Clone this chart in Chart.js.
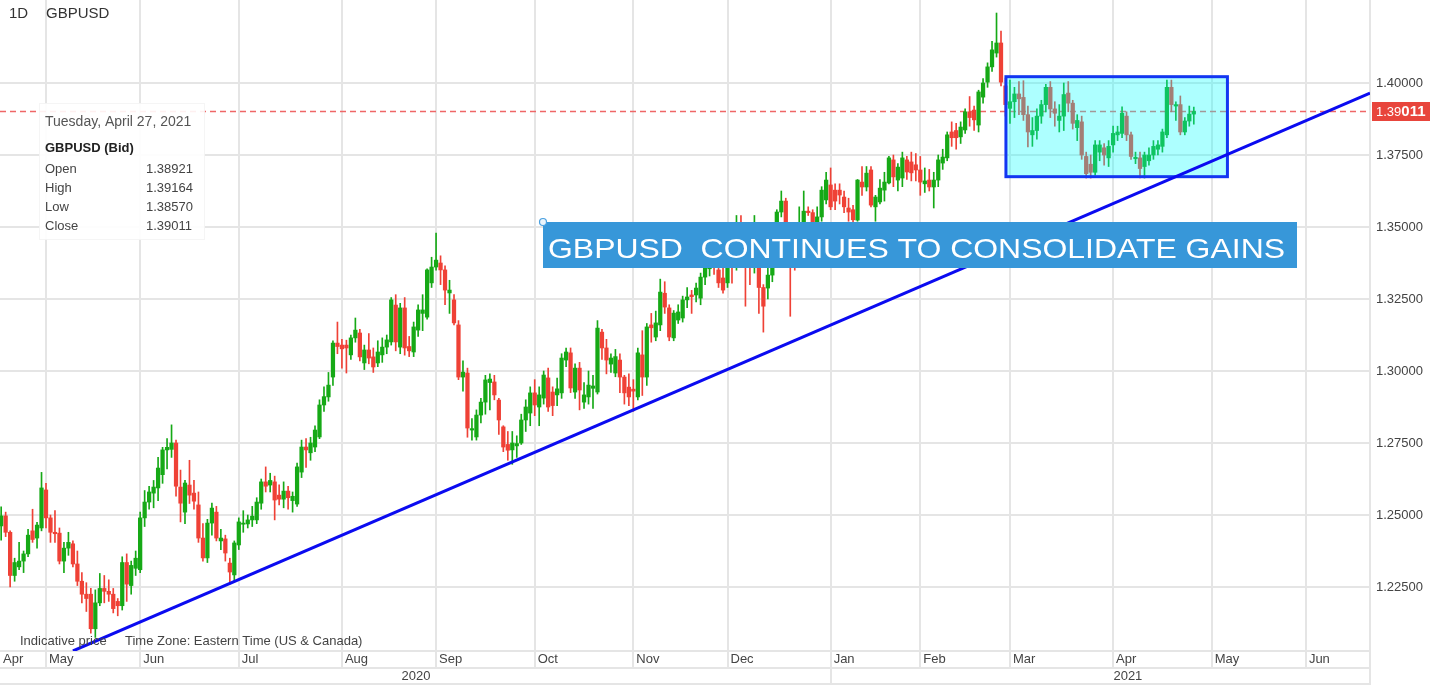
<!DOCTYPE html>
<html>
<head>
<meta charset="utf-8">
<script src="https://cdn.jsdelivr.net/npm/chart.js@4.4.1/dist/chart.umd.min.js"></script>
<style>
html,body{margin:0;padding:0;background:#fff;overflow:hidden}
#wrap{position:relative;width:1430px;height:685px}
canvas{display:block}
</style>
</head>
<body>
<div id="wrap"><canvas id="c" width="1430" height="685"></canvas></div>
<script>
// ---- DATA ----------------------------------------------------------
// x = trading-day index, 0 = Fri May 1 2020; first candle = Fri Apr 17 2020
const firstIndex = -10;
const opens = [
1.2462,1.2497,1.2440,1.2290,1.2320,1.2340,1.2365,1.2445,1.2420,1.2455,
1.2587,1.2490,1.2440,1.2437,1.2340,1.2385,1.2400,1.2330,1.2270,1.2225,1.2225,1.2105,1.2195,1.2245,1.2235,1.2225,1.2200,1.2185,1.2335,1.2255,1.2315,
1.2310,1.2490,1.2545,1.2576,1.2594,1.2640,1.2726,1.2728,1.2750,1.2597,1.2510,1.2604,1.2576,1.2535,1.2420,1.2351,1.2472,1.2510,1.2410,1.2417,1.2333,1.2292,
1.2396,1.2468,1.2469,1.2483,1.2483,1.2541,1.2615,1.2604,1.2615,1.2569,1.2555,1.2583,1.2550,1.2538,1.2649,1.2736,1.2716,1.2736,1.2771,1.2882,1.2910,1.2979,1.3097,
1.3090,1.3090,1.3056,1.3115,1.3132,1.3028,1.3073,1.3049,1.3028,1.3056,1.3083,1.3101,1.3229,1.3083,1.3219,1.3085,1.3066,1.3142,1.3200,1.3187,1.3306,
1.3361,1.3375,1.3351,1.3271,1.3247,1.3160,1.2979,1.2993,1.2795,1.2771,1.2847,1.2892,1.2960,1.2962,1.2899,1.2806,1.2745,1.2726,1.2740,1.2750,1.2830,1.2854,
1.2924,1.2875,1.2906,1.2976,1.2927,1.2917,1.2924,1.3038,1.3063,1.2927,1.3010,1.2892,1.2910,1.2940,1.2927,1.3135,1.3080,1.3024,1.2993,1.3038,1.2979,1.2944,
1.2937,1.2910,1.3056,1.2979,1.3160,1.3118,1.3160,1.3270,1.3219,1.3115,1.3177,1.3184,1.3247,1.3264,1.3264,1.3253,1.3326,1.3355,1.3370,1.3351,1.3323,
1.3306,1.3418,1.3365,1.3465,1.3440,1.3385,1.3360,1.3375,1.3290,1.3288,1.3333,1.3445,1.3552,1.3590,1.3480,1.3450,1.3380,1.3495,1.3555,1.3550,1.3480,1.3535,1.3594,
1.3646,1.3628,1.3628,1.3604,1.3566,1.3560,1.3524,1.3656,1.3639,1.3698,1.3570,1.3587,1.3628,1.3653,1.3733,1.3663,1.3670,1.3733,1.3726,1.3716,
1.3698,1.3650,1.3663,1.3639,1.3663,1.3722,1.3740,1.3830,1.3835,1.3813,1.3837,1.3900,1.3906,1.3854,1.3951,1.4003,1.4056,1.4104,1.4139,1.3990,
1.3912,1.3935,1.3962,1.3950,1.3890,1.3820,1.3835,1.3885,1.3925,1.3985,1.3910,1.3870,1.3885,1.3965,1.3930,1.3845,1.3865,1.3745,1.3718,1.3690,1.3760,1.3775,1.3740,
1.3785,1.3820,1.3825,1.3885,1.3820,1.3737,1.3740,1.3710,1.3730,1.3750,1.3770,1.3780,1.3820,1.3985,1.3920,1.3925,1.3830,1.3868,1.38921
];
const highs = [
1.2528,1.2510,1.2445,1.2350,1.2405,1.2375,1.2450,1.2520,1.2475,1.2648,
1.2610,1.2500,1.2515,1.2455,1.2405,1.2440,1.2410,1.2375,1.2300,1.2265,1.2245,1.2240,1.2297,1.2290,1.2275,1.2245,1.2210,1.2355,1.2365,1.2340,1.2375,
1.2510,1.2585,1.2600,1.2620,1.2700,1.2735,1.2765,1.2813,1.2760,1.2656,1.2620,1.2690,1.2620,1.2580,1.2470,1.2485,1.2541,1.2530,1.2450,1.2430,1.2350,1.2410,
1.2490,1.2515,1.2500,1.2530,1.2560,1.2625,1.2667,1.2645,1.2635,1.2605,1.2615,1.2600,1.2580,1.2680,1.2760,1.2765,1.2770,1.2810,1.2900,1.2945,1.2995,1.3105,1.3170,
1.3110,1.3107,1.3125,1.3184,1.3145,1.3090,1.3130,1.3080,1.3105,1.3115,1.3125,1.3255,1.3265,1.3235,1.3255,1.3120,1.3170,1.3230,1.3265,1.3355,1.3395,
1.3479,1.3400,1.3365,1.3315,1.3265,1.3175,1.3035,1.3010,1.2835,1.2865,1.2905,1.2985,1.2990,1.2985,1.2905,1.2810,1.2790,1.2790,1.2775,1.2850,1.2900,1.2945,
1.2970,1.2945,1.3000,1.3010,1.2945,1.2975,1.3060,1.3080,1.3080,1.3025,1.3030,1.2960,1.3000,1.2985,1.3175,1.3145,1.3110,1.3060,1.3075,1.3060,1.2985,1.2990,
1.2970,1.3080,1.3140,1.3165,1.3200,1.3208,1.3319,1.3310,1.3230,1.3210,1.3230,1.3260,1.3290,1.3280,1.3305,1.3340,1.3375,1.3400,1.3395,1.3380,1.3360,
1.3445,1.3440,1.3540,1.3540,1.3445,1.3425,1.3540,1.3385,1.3300,1.3410,1.3470,1.3560,1.3625,1.3600,1.3500,1.3470,1.3570,1.3625,1.3570,1.3560,1.3570,1.3640,1.3690,
1.3705,1.3650,1.3650,1.3625,1.3600,1.3575,1.3665,1.3710,1.3710,1.3710,1.3610,1.3665,1.3690,1.3745,1.3750,1.3720,1.3760,1.3745,1.3760,1.3755,
1.3745,1.3705,1.3700,1.3690,1.3750,1.3770,1.3830,1.3865,1.3860,1.3865,1.3910,1.3953,1.3920,1.3975,1.4015,1.4070,1.4145,1.4243,1.4180,1.4017,
1.4010,1.3985,1.4005,1.4008,1.3920,1.3880,1.3910,1.3940,1.3995,1.4005,1.3935,1.3925,1.4000,1.4005,1.3940,1.3890,1.3885,1.3760,1.3750,1.3800,1.3800,1.3790,1.3800,
1.3850,1.3850,1.3917,1.3900,1.3830,1.3760,1.3760,1.3760,1.3775,1.3800,1.3800,1.3840,1.4010,1.4010,1.3935,1.3955,1.3880,1.3920,1.39164
];
const lows = [
1.2413,1.2425,1.2250,1.2270,1.2310,1.2300,1.2355,1.2405,1.2385,1.2445,
1.2455,1.2405,1.2405,1.2330,1.2300,1.2360,1.2320,1.2255,1.2195,1.2165,1.2090,1.2075,1.2185,1.2195,1.2200,1.2160,1.2150,1.2170,1.2200,1.2225,1.2290,
1.2300,1.2460,1.2520,1.2525,1.2550,1.2610,1.2660,1.2700,1.2565,1.2476,1.2470,1.2540,1.2520,1.2405,1.2340,1.2335,1.2430,1.2410,1.2380,1.2340,1.2260,1.2270,
1.2380,1.2440,1.2455,1.2460,1.2470,1.2520,1.2580,1.2580,1.2483,1.2535,1.2525,1.2520,1.2510,1.2530,1.2630,1.2665,1.2690,1.2720,1.2765,1.2860,1.2895,1.2950,1.3060,
1.3010,1.2993,1.3040,1.3100,1.3035,1.3005,1.3025,1.2995,1.3015,1.3030,1.3060,1.3090,1.3070,1.3060,1.3055,1.3050,1.3050,1.3120,1.3140,1.3180,1.3290,
1.3350,1.3300,1.3230,1.3200,1.3160,1.2970,1.2930,1.2770,1.2760,1.2760,1.2820,1.2850,1.2865,1.2900,1.2780,1.2720,1.2690,1.2676,1.2700,1.2745,1.2790,1.2810,
1.2845,1.2810,1.2885,1.2860,1.2845,1.2880,1.2905,1.3015,1.2925,1.2905,1.2865,1.2870,1.2885,1.2870,1.2920,1.3040,1.2990,1.2995,1.2980,1.2925,1.2885,1.2880,
1.2860,1.2900,1.2915,1.2950,1.3100,1.3105,1.3140,1.3200,1.3105,1.3105,1.3165,1.3170,1.3220,1.3200,1.3240,1.3230,1.3300,1.3330,1.3335,1.3290,1.3270,
1.3290,1.3305,1.3350,1.3400,1.3225,1.3300,1.3340,1.3200,1.3135,1.3250,1.3310,1.3400,1.3535,1.3480,1.3190,1.3350,1.3375,1.3480,1.3540,1.3430,1.3440,1.3520,1.3580,
1.3560,1.3560,1.3580,1.3550,1.3520,1.3450,1.3520,1.3610,1.3625,1.3570,1.3520,1.3580,1.3590,1.3650,1.3640,1.3625,1.3640,1.3665,1.3660,1.3660,
1.3610,1.3620,1.3625,1.3566,1.3640,1.3700,1.3730,1.3780,1.3770,1.3790,1.3825,1.3850,1.3835,1.3830,1.3930,1.3985,1.4040,1.4090,1.3990,1.3885,
1.3860,1.3880,1.3890,1.3870,1.3778,1.3780,1.3805,1.3860,1.3900,1.3880,1.3850,1.3830,1.3835,1.3900,1.3840,1.3800,1.3735,1.3670,1.3670,1.3680,1.3730,1.3715,1.3710,
1.3760,1.3800,1.3810,1.3800,1.3735,1.3720,1.3670,1.3670,1.3715,1.3735,1.3750,1.3760,1.3810,1.3900,1.3870,1.3820,1.3820,1.3850,1.38570
];
const closes = [
1.2497,1.2440,1.2290,1.2335,1.2340,1.2365,1.2430,1.2415,1.2465,1.2594,
1.2490,1.2440,1.2435,1.2340,1.2385,1.2405,1.2330,1.2270,1.2225,1.2210,1.2105,1.2195,1.2245,1.2235,1.2225,1.2175,1.2185,1.2335,1.2260,1.2325,1.2350,
1.2490,1.2545,1.2580,1.2597,1.2663,1.2726,1.2735,1.2750,1.2600,1.2541,1.2611,1.2569,1.2548,1.2420,1.2351,1.2472,1.2524,1.2420,1.2420,1.2368,1.2302,1.2403,
1.2476,1.2472,1.2483,1.2496,1.2545,1.2615,1.2600,1.2620,1.2552,1.2555,1.2583,1.2560,1.2565,1.2667,1.2736,1.2726,1.2750,1.2795,1.2882,1.2911,1.2951,1.3097,1.3085,
1.3077,1.3080,1.3115,1.3142,1.3049,1.3073,1.3045,1.3014,1.3066,1.3083,1.3108,1.3247,1.3101,1.3219,1.3080,1.3070,1.3153,1.3212,1.3212,1.3351,1.3361,
1.3385,1.3351,1.3281,1.3281,1.3167,1.2979,1.2996,1.2802,1.2800,1.2847,1.2892,1.2969,1.2972,1.2917,1.2830,1.2736,1.2725,1.2750,1.2748,1.2830,1.2875,1.2924,
1.2882,1.2917,1.2986,1.2875,1.2880,1.2938,1.3045,1.3066,1.2941,1.3010,1.2934,1.2917,1.2951,1.2948,1.3149,1.3080,1.3038,1.3045,1.3050,1.2979,1.2924,1.2910,
1.2930,1.3063,1.2979,1.3153,1.3150,1.3167,1.3274,1.3222,1.3118,1.3201,1.3205,1.3247,1.3257,1.3258,1.3288,1.3326,1.3358,1.3370,1.3365,1.3306,1.3281,
1.3418,1.3365,1.3465,1.3440,1.3385,1.3360,1.3375,1.3290,1.3225,1.3333,1.3445,1.3552,1.3590,1.3517,1.3450,1.3380,1.3495,1.3555,1.3550,1.3500,1.3535,1.3628,1.3663,
1.3570,1.3590,1.3611,1.3570,1.3552,1.3525,1.3663,1.3639,1.3687,1.3576,1.3604,1.3635,1.3656,1.3740,1.3674,1.3708,1.3740,1.3691,1.3688,1.3698,
1.3656,1.3660,1.3639,1.3663,1.3733,1.3743,1.3820,1.3810,1.3810,1.3847,1.3900,1.3880,1.3872,1.3969,1.4000,1.4056,1.4115,1.4139,1.4003,1.3925,
1.3935,1.3962,1.3945,1.3890,1.3830,1.3835,1.3885,1.3925,1.3985,1.3910,1.3895,1.3885,1.3960,1.3930,1.3860,1.3870,1.3750,1.3685,1.3690,1.3785,1.3785,1.3750,1.3780,
1.3825,1.3830,1.3895,1.3820,1.3745,1.3742,1.3703,1.3750,1.3750,1.3780,1.3785,1.3830,1.3985,1.3925,1.3925,1.3830,1.3868,1.3892,1.39011
];

// month ticks (trading-day index of first session of each month)
const monthTickIdx    = [-10.26, 0, 21, 43, 66, 87, 109, 131, 152, 175, 195, 215, 238, 260, 281];
const monthTickLabels = ['Apr','May','Jun','Jul','Aug','Sep','Oct','Nov','Dec','Jan','Feb','Mar','Apr','May','Jun'];
const yearTickIdx     = [82.5, 175, 241.3];
const yearTickLabels  = ['2020', '', '2021'];
const priceTicks      = [1.225, 1.25, 1.275, 1.30, 1.325, 1.35, 1.375, 1.40];

const lastPrice = 1.39011;
const infoRows  = [['Open','1.38921'],['High','1.39164'],['Low','1.38570'],['Close','1.39011']];
const infoDate  = 'Tuesday, April 27, 2021';
const symbol    = 'GBPUSD';

// drawn annotations, in data coordinates
const trendX = [6.0, 295.3];
const trendY = [1.2028, 1.3965];
const boxX   = [214.1, 263.5];
const boxY   = [1.36747, 1.40219];
const bannerAnchor = [110.8, 1.35174];
const bannerText = 'GBPUSD  CONTINUES TO CONSOLIDATE GAINS';

// ---- CHART ---------------------------------------------------------
const FONT = "'Liberation Sans', Arial, Helvetica, sans-serif";
const GRID = '#e5e5e5';
const UP = '#16a916', DOWN = '#ef4136';
const X_MIN = -10.26, X_MAX = 295.3;
const Y_MIN = 1.20278, Y_MAX = 1.42882;

const wickData = opens.map((o, i) => ({x: firstIndex + i, y: [lows[i], highs[i]]}));
const bodyData = opens.map((o, i) => ({x: firstIndex + i, y: [o, closes[i]]}));
const candleColors = opens.map((o, i) => closes[i] >= o ? UP : DOWN);
const trendData = trendX.map((x, i) => ({x: x, y: trendY[i]}));

const overlay = {
  id: 'overlay',
  beforeDatasetsDraw(chart) {
    const {ctx, chartArea: a, scales: {y}} = chart;
    const py = Math.round(y.getPixelForValue(lastPrice)) + 0.5;
    ctx.save();
    ctx.strokeStyle = '#ef6767';
    ctx.lineWidth = 1.3;
    ctx.setLineDash([6, 4]);
    ctx.beginPath(); ctx.moveTo(a.left, py); ctx.lineTo(a.right, py); ctx.stroke();
    ctx.restore();
  },
  afterDatasetDraw(chart, args) {
    if (args.index !== 1) return;
    const {ctx, scales: {x, y}} = chart;
    const l = x.getPixelForValue(boxX[0]), r = x.getPixelForValue(boxX[1]);
    const t = y.getPixelForValue(boxY[1]), b = y.getPixelForValue(boxY[0]);
    ctx.save();
    ctx.fillStyle = 'rgba(0,255,255,0.32)';
    ctx.fillRect(l, t, r - l, b - t);
    ctx.strokeStyle = '#1236f2';
    ctx.lineWidth = 3;
    ctx.strokeRect(l, t, r - l, b - t);
    ctx.restore();
  },
  afterDatasetsDraw(chart) {
    const {ctx, scales: {x, y}} = chart;
    // banner
    const bl = Math.round(x.getPixelForValue(bannerAnchor[0]));
    const bt = Math.round(y.getPixelForValue(bannerAnchor[1]));
    const bw = 754, bh = 46;
    ctx.save();
    ctx.fillStyle = '#3797d9';
    ctx.fillRect(bl, bt, bw, bh);
    ctx.font = '28px ' + FONT;
    const tw = ctx.measureText(bannerText).width;
    const sx = 737 / tw;
    ctx.fillStyle = '#ffffff';
    ctx.textBaseline = 'alphabetic';
    ctx.translate(bl + 5, bt + 36);
    ctx.scale(sx, 1);
    ctx.fillText(bannerText, 0, 0);
    ctx.restore();
    ctx.save();
    ctx.beginPath(); ctx.arc(bl, bt, 3.5, 0, Math.PI * 2);
    ctx.fillStyle = '#eaf4fc'; ctx.fill();
    ctx.strokeStyle = '#4aa0e0'; ctx.lineWidth = 1.2; ctx.stroke();
    ctx.restore();

    // info box
    ctx.save();
    ctx.fillStyle = 'rgba(255,255,255,0.9)';
    ctx.fillRect(39, 103, 166, 137);
    ctx.strokeStyle = 'rgba(0,0,0,0.04)';
    ctx.strokeRect(39.5, 103.5, 165, 136);
    ctx.textBaseline = 'middle';
    ctx.fillStyle = '#555';
    ctx.font = '14px ' + FONT;
    ctx.fillText(infoDate, 45, 122);
    ctx.fillStyle = '#222';
    ctx.font = 'bold 13px ' + FONT;
    ctx.fillText(symbol + ' (Bid)', 45, 148);
    ctx.font = '13px ' + FONT;
    ctx.fillStyle = '#444';
    infoRows.forEach((r, i) => {
      const yy = 169 + i * 19;
      ctx.fillText(r[0], 45, yy);
      ctx.fillText(r[1], 146, yy);
    });
    ctx.restore();
  },
  afterDraw(chart) {
    const {ctx, chartArea: a, scales: {y}} = chart;
    ctx.save();
    // header
    ctx.textBaseline = 'middle';
    ctx.fillStyle = '#333';
    ctx.font = '15px ' + FONT;
    ctx.fillText('1D', 9, 14);
    ctx.fillText(symbol, 46, 14);
    // footer
    ctx.fillStyle = '#444';
    ctx.font = '13px ' + FONT;
    ctx.fillText('Indicative price', 20, 641);
    ctx.fillText('Time Zone: Eastern Time (US & Canada)', 125, 641);
    // frame lines of the axis rows
    ctx.strokeStyle = GRID;
    ctx.lineWidth = 2;
    ctx.beginPath();
    ctx.moveTo(0, 684); ctx.lineTo(a.right, 684);
    ctx.moveTo(a.right, a.bottom); ctx.lineTo(a.right, 685);
    ctx.stroke();
    // last price label
    const py = Math.round(y.getPixelForValue(lastPrice));
    ctx.fillStyle = '#e8453c';
    ctx.fillRect(a.right + 2, py - 9, 58, 19);
    ctx.fillStyle = '#fff';
    ctx.textBaseline = 'middle';
    ctx.font = '13px ' + FONT;
    const s = lastPrice.toFixed(5);
    const head = s.slice(0, 4), tail = s.slice(4);
    ctx.fillText(head, a.right + 6, py + 1);
    const hw = ctx.measureText(head).width;
    ctx.font = 'bold 15px ' + FONT;
    ctx.fillText(tail, a.right + 6 + hw, py + 1);
    ctx.restore();
  }
};

Chart.defaults.font.family = FONT;

new Chart(document.getElementById('c'), {
  type: 'bar',
  data: {
    datasets: [
      {type: 'bar', label: 'wick', data: wickData, backgroundColor: candleColors,
       barThickness: 1, grouped: false, order: 3, borderWidth: 0},
      {type: 'bar', label: 'body', data: bodyData, backgroundColor: candleColors,
       barThickness: 3.6, grouped: false, order: 2, borderWidth: 0, minBarLength: 1},
      {type: 'line', label: 'trend', data: trendData, borderColor: '#0b0bf0', borderWidth: 3,
       pointRadius: 0, order: 1, fill: false, tension: 0, clip: 0}
    ]
  },
  options: {
    responsive: false,
    devicePixelRatio: 1,
    animation: false,
    events: [],
    layout: {padding: 0},
    plugins: {legend: {display: false}, tooltip: {enabled: false}},
    scales: {
      x: {
        type: 'linear', position: 'bottom', weight: 0,
        min: X_MIN, max: X_MAX, offset: false,
        grid: {offset: false, lineWidth: 2, tickLength: 17, drawTicks: true,
               color: c => c.index === 0 ? 'rgba(0,0,0,0)' : GRID},
        border: {display: true, color: GRID, width: 2},
        afterBuildTicks: s => { s.ticks = monthTickIdx.map(v => ({value: v})); },
        ticks: {autoSkip: false, maxRotation: 0, minRotation: 0, align: 'start', labelOffset: 3,
                padding: -16, color: '#444', font: {size: 13},
                callback: (v, i) => monthTickLabels[i]},
        afterFit: s => { s.height = 17; s.paddingLeft = 0; s.paddingRight = 0; }
      },
      x2: {
        type: 'linear', position: 'bottom', weight: 1,
        min: X_MIN, max: X_MAX, offset: false,
        grid: {offset: false, drawOnChartArea: false, drawTicks: true, tickLength: 17, lineWidth: 2,
               color: c => yearTickLabels[c.index] === '' ? GRID : 'rgba(0,0,0,0)'},
        border: {display: true, color: GRID, width: 2},
        afterBuildTicks: s => { s.ticks = yearTickIdx.map(v => ({value: v})); },
        ticks: {autoSkip: false, maxRotation: 0, minRotation: 0, align: 'center',
                padding: -16, color: '#444', font: {size: 13},
                callback: (v, i) => yearTickLabels[i]},
        afterFit: s => { s.height = 17; s.paddingLeft = 0; s.paddingRight = 0; }
      },
      y: {
        type: 'linear', position: 'right',
        min: Y_MIN, max: Y_MAX,
        grid: {color: GRID, lineWidth: 2, drawTicks: false},
        border: {display: true, color: GRID, width: 2},
        afterBuildTicks: s => { s.ticks = priceTicks.map(v => ({value: v})); },
        ticks: {padding: 6, color: '#444', font: {size: 13}, callback: v => v.toFixed(5)},
        afterFit: s => { s.width = 60; s.paddingTop = 0; s.paddingBottom = 0; }
      }
    }
  },
  plugins: [overlay]
});
</script>
</body>
</html>
